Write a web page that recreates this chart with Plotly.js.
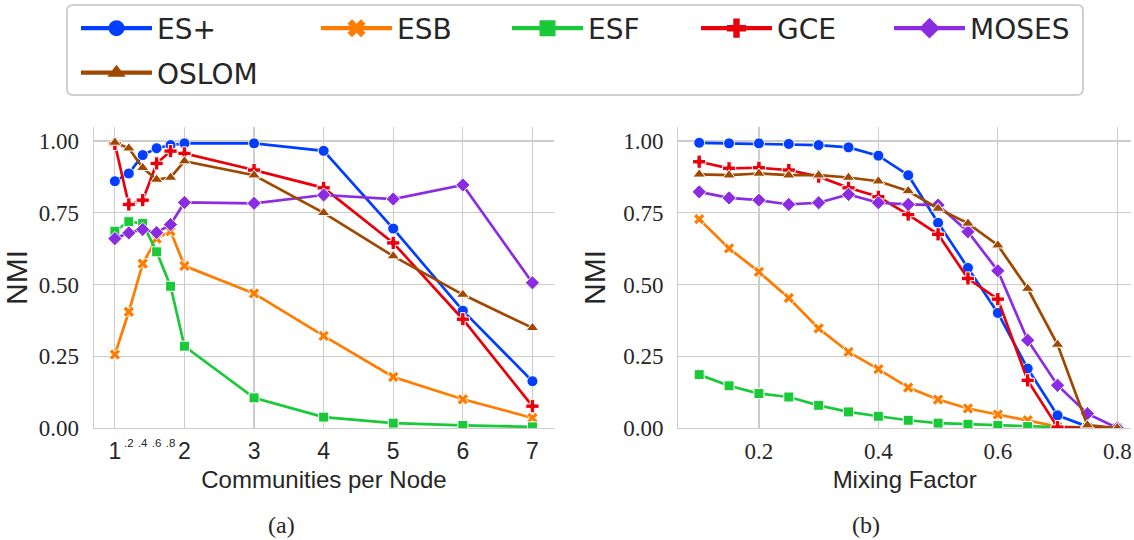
<!DOCTYPE html>
<html>
<head>
<meta charset="utf-8">
<script src="https://cdn.plot.ly/plotly-3.0.1.min.js"></script>
<style>html,body{margin:0;padding:0;background:#fff;}#chart{width:1134px;height:540px;}</style>
</head>
<body>
<div id="chart"></div>
<script>
// ---- data ----
const methods = ['ES+', 'ESB', 'ESF', 'GCE', 'MOSES', 'OSLOM'];
const communitiesPerNode = [1, 1.2, 1.4, 1.6, 1.8, 2, 3, 4, 5, 6, 7];
const a_ESplus = [0.860, 0.887, 0.951, 0.975, 0.986, 0.992, 0.992, 0.966, 0.695, 0.409, 0.163];
const a_ESB    = [0.256, 0.405, 0.573, 0.660, 0.686, 0.565, 0.469, 0.321, 0.178, 0.100, 0.035];
const a_ESF    = [0.686, 0.719, 0.713, 0.614, 0.494, 0.285, 0.105, 0.038, 0.017, 0.009, 0.004];
const a_GCE    = [0.990, 0.779, 0.794, 0.922, 0.965, 0.957, 0.899, 0.837, 0.645, 0.379, 0.076];
const a_MOSES  = [0.660, 0.680, 0.692, 0.681, 0.709, 0.786, 0.783, 0.812, 0.798, 0.847, 0.506];
const a_OSLOM  = [0.995, 0.975, 0.907, 0.866, 0.873, 0.930, 0.881, 0.750, 0.599, 0.465, 0.349];

const mixingFactor = [0.1, 0.15, 0.2, 0.25, 0.3, 0.35, 0.4, 0.45, 0.5, 0.55, 0.6, 0.65, 0.7, 0.75, 0.8];
const b_ESplus = [0.994, 0.992, 0.992, 0.990, 0.986, 0.978, 0.949, 0.881, 0.715, 0.558, 0.401, 0.207, 0.044, 0.005, 0.0];
const b_ESB    = [0.728, 0.626, 0.544, 0.453, 0.347, 0.265, 0.205, 0.141, 0.099, 0.068, 0.047, 0.027, 0.005, 0.0, 0.0];
const b_ESF    = [0.186, 0.147, 0.120, 0.108, 0.079, 0.056, 0.041, 0.027, 0.017, 0.013, 0.009, 0.005, 0.003, 0.003, 0.0];
const b_GCE    = [0.928, 0.905, 0.907, 0.899, 0.876, 0.837, 0.806, 0.744, 0.675, 0.521, 0.449, 0.166, 0.003, 0.0, 0.0];
const b_MOSES  = [0.823, 0.802, 0.794, 0.779, 0.785, 0.814, 0.785, 0.779, 0.777, 0.684, 0.548, 0.306, 0.149, 0.050, 0.0];
const b_OSLOM  = [0.884, 0.881, 0.887, 0.881, 0.881, 0.873, 0.860, 0.826, 0.765, 0.713, 0.637, 0.486, 0.291, 0.010, 0.0];

const xTicksA = [1, 2, 3, 4, 5, 6, 7];
const xMinorTicksA = [1.2, 1.4, 1.6, 1.8];
const xMinorLabelsA = ['.2', '.4', '.6', '.8'];
const xTicksB = [0.2, 0.4, 0.6, 0.8];
const yTicks = [0, 0.25, 0.5, 0.75, 1.0];

// ---- styles ----
const colors = ['#023eff', '#ff7c00', '#1ac938', '#e8000b', '#8b2be2', '#9f4800'];
const symbols = ['circle', 'x', 'square', 'cross', 'diamond', 'triangle-up'];
const msize = [11, 10, 10, 11, 11, 11];
const legendWidths = [154, 105, 103, 107, 120, 120];

const seriesA = [a_ESplus, a_ESB, a_ESF, a_GCE, a_MOSES, a_OSLOM];
const seriesB = [b_ESplus, b_ESB, b_ESF, b_GCE, b_MOSES, b_OSLOM];

const traces = [];
methods.forEach((m, i) => {
  traces.push({
    x: communitiesPerNode, y: seriesA[i], xaxis: 'x', yaxis: 'y',
    type: 'scatter', mode: 'lines+markers', name: m, showlegend: false,
    line: {color: colors[i], width: 2.7},
    marker: {symbol: symbols[i], size: msize[i], color: colors[i], line: {color: '#ffffff', width: 1}}
  });
});
methods.forEach((m, i) => {
  traces.push({
    x: mixingFactor, y: seriesB[i], xaxis: 'x2', yaxis: 'y2',
    type: 'scatter', mode: 'lines+markers', name: m, showlegend: false,
    line: {color: colors[i], width: 2.7},
    marker: {symbol: symbols[i], size: msize[i], color: colors[i], line: {color: '#ffffff', width: 1}}
  });
});
// legend entries (no points; they carry the legend styling and the minor-label axis)
methods.forEach((m, i) => {
  traces.push({
    x: [null], y: [null], xaxis: 'x3', yaxis: 'y',
    type: 'scatter', mode: 'lines+markers', name: m, showlegend: true,
    legend: i < 5 ? 'legend' : 'legend2',
    legendwidth: legendWidths[i],
    line: {color: colors[i], width: 4.3},
    marker: {symbol: symbols[i], size: 16, color: colors[i], line: {color: '#ffffff', width: 0}}
  });
});

const W = 1134, H = 540;
const px = v => v / W, py = v => 1 - v / H;

const serif = "'Liberation Serif'";
const sans = "'Liberation Sans'";
const textColor = '#262626';
const grid = '#cccccc';

const yBase = {
  range: [0, 1.049], tickvals: yTicks, tickformat: '.2f',
  tickfont: {family: serif, size: 23, color: textColor},
  showgrid: true, gridcolor: grid, gridwidth: 1.2,
  showline: true, linecolor: grid, linewidth: 1.3,
  zeroline: false, ticks: '', automargin: false, ticklabelstandoff: 9,
  domain: [py(428), py(127)]
};

// rounded legend frame
function roundedRect(x0, y0, x1, y1, r) {
  const rx = r / W, ry = r / H;
  const X0 = px(x0), X1 = px(x1), Y0 = py(y0), Y1 = py(y1);
  return `M ${X0 + rx} ${Y0} L ${X1 - rx} ${Y0} Q ${X1} ${Y0} ${X1} ${Y0 - ry} ` +
         `L ${X1} ${Y1 + ry} Q ${X1} ${Y1} ${X1 - rx} ${Y1} L ${X0 + rx} ${Y1} ` +
         `Q ${X0} ${Y1} ${X0} ${Y1 + ry} L ${X0} ${Y0 - ry} Q ${X0} ${Y0} ${X0 + rx} ${Y0} Z`;
}

const legendFont = {family: "'DejaVu Sans'", size: 28, color: textColor};

const layout = {
  width: W, height: H,
  margin: {l: 0, r: 0, t: 0, b: 0},
  paper_bgcolor: '#ffffff', plot_bgcolor: '#ffffff',
  showlegend: true,
  xaxis: {
    domain: [px(94), px(554)], range: [0.70, 7.31], anchor: 'y',
    tickvals: xTicksA, ticktext: xTicksA.map(String),
    tickfont: {family: sans, size: 23, color: textColor},
    showgrid: true, gridcolor: grid, gridwidth: 1.2,
    showline: true, linecolor: grid, linewidth: 1.3,
    zeroline: false, ticks: '', automargin: false, ticklabelstandoff: 2,
    title: {text: 'Communities per Node', font: {family: sans, size: 24, color: textColor}, standoff: 8}
  },
  xaxis3: {
    overlaying: 'x', anchor: 'y', side: 'bottom',
    domain: [px(94), px(554)], range: [0.70, 7.31],
    tickvals: xMinorTicksA, ticktext: xMinorLabelsA,
    tickfont: {family: sans, size: 11.5, color: textColor},
    showgrid: false, showline: false, zeroline: false, ticks: '', automargin: false,
    ticklabelstandoff: 6
  },
  yaxis: Object.assign({}, yBase, {anchor: 'x',
    title: {text: 'NMI', font: {family: sans, size: 30, color: textColor}, standoff: 8}}),
  xaxis2: {
    domain: [px(678.3), px(1131)], range: [0.065, 0.823], anchor: 'y2',
    tickvals: xTicksB, tickformat: '.1f',
    tickfont: {family: serif, size: 23, color: textColor},
    showgrid: true, gridcolor: grid, gridwidth: 1.2,
    showline: true, linecolor: grid, linewidth: 1.3,
    zeroline: false, ticks: '', automargin: false, ticklabelstandoff: 2,
    title: {text: 'Mixing Factor', font: {family: sans, size: 24, color: textColor}, standoff: 8}
  },
  yaxis2: Object.assign({}, yBase, {anchor: 'x2',
    title: {text: 'NMI', font: {family: sans, size: 30, color: textColor}, standoff: 8}}),
  legend: {
    orientation: 'h', x: px(76), xanchor: 'left', y: py(3.5), yanchor: 'top',
    font: legendFont, itemwidth: 71, bgcolor: 'rgba(0,0,0,0)', borderwidth: 0,
    traceorder: 'normal', itemclick: false
  },
  legend2: {
    orientation: 'h', x: px(76), xanchor: 'left', y: py(48), yanchor: 'top',
    font: legendFont, itemwidth: 71, bgcolor: 'rgba(0,0,0,0)', borderwidth: 0
  },
  shapes: [{
    type: 'path', xref: 'paper', yref: 'paper', layer: 'below',
    path: roundedRect(67, 5, 1083, 95, 6),
    line: {color: '#d0d0d0', width: 2}, fillcolor: 'rgba(255,255,255,0.8)'
  }],
  annotations: [
    {text: '(a)', x: px(281), y: py(525), xref: 'paper', yref: 'paper', xanchor: 'center', yanchor: 'middle',
     showarrow: false, font: {family: serif, size: 24, color: textColor}},
    {text: '(b)', x: px(866), y: py(525), xref: 'paper', yref: 'paper', xanchor: 'center', yanchor: 'middle',
     showarrow: false, font: {family: serif, size: 24, color: textColor}}
  ]
};

Plotly.newPlot('chart', traces, layout, {displayModeBar: false, staticPlot: true});
</script>
</body>
</html>
